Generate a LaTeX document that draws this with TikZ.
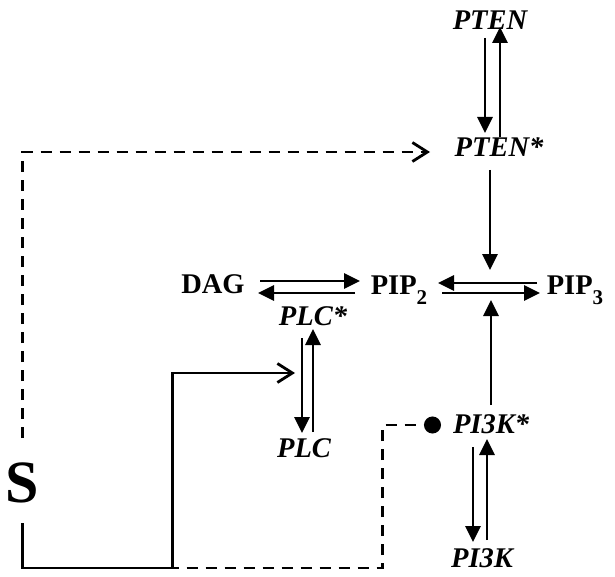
\documentclass[tikz,border=0pt]{standalone}
\usepackage{fontspec}
\setmainfont{Liberation Serif}
\usetikzlibrary{arrows.meta,calc}

\newcommand{\lowsub}[1]{\raisebox{-10pt}{\fontsize{21}{21}\selectfont #1}}

\tikzset{
  species/.style={font=\fontsize{28.5}{30}\selectfont\bfseries, inner sep=0pt, anchor=base},
  enzyme/.style={species, font=\fontsize{28.5}{30}\selectfont\bfseries\itshape},
  stim/.style={species, font=\fontsize{60}{60}\selectfont\bfseries},
  conv/.style={line width=2.8pt, -{Triangle[length=16pt,width=15pt]}},
  signal/.style={line width=2.8pt, -{Straight Barb[length=15pt,width=19pt]}},
  sigdash/.style={dash pattern=on 11pt off 8pt},
  inhib/.style={line width=2.8pt, sigdash, -{Circle[length=17pt]}}
}

\begin{document}
\begin{tikzpicture}[x=1pt, y=-1pt]
\useasboundingbox (0,0) rectangle (615,577);
% species
\node[enzyme] (pten) at (490,30) {PTEN};
\node[enzyme] (ptens) at (499,157) {PTEN*};
\node[species] (dag) at (213,293) {DAG};
\node[species] (pip2) at (399,294) {PIP\lowsub{2}};
\node[species] (pip3) at (575,294) {PIP\lowsub{3}};
\node[enzyme] (plcs) at (313,325) {PLC*};
\node[enzyme] (plc) at (304,457) {PLC};
\node[enzyme] (pi3ks) at (491,433) {PI3K*};
\node[enzyme] (pi3k) at (482,567) {PI3K};
\node[stim] (s) at (22,502) {S};
\coordinate (pipmid) at (490,288);
\coordinate (plcmid) at (307,373);

% PTEN cycle
\draw[conv] ($(pten.base)+(-5,8)$) -- ($(ptens.base)+(-14,-24)$);
\draw[conv] ($(ptens.base)+(1,-20)$) -- ($(pten.base)+(10,-3)$);
\draw[conv] ($(ptens.base)+(-9,13)$) -- ($(pipmid)+(0,-18)$);
% lipids
\draw[conv] ($(dag.base)+(47,-12)$) -- ($(pip2.base)+(-39,-13)$);
\draw[conv] ($(pip2.base)+(-44,-1)$) -- ($(dag.base)+(45,0)$);
\draw[conv] ($(pip3.base)+(-38,-11)$) -- ($(pip2.base)+(39,-11)$);
\draw[conv] ($(pip2.base)+(43,-1)$) -- ($(pip3.base)+(-35,-1)$);
% PLC cycle
\draw[conv] ($(plcs.base)+(-11,13)$) -- ($(plc.base)+(-2,-24)$);
\draw[conv] ($(plc.base)+(9,-25)$) -- ($(plcs.base)+(0,4)$);
% PI3K cycle
\draw[conv] ($(pi3ks.base)+(-18,14)$) -- ($(pi3k.base)+(-9,-25)$);
\draw[conv] ($(pi3k.base)+(5,-27)$) -- ($(pi3ks.base)+(-4,6)$);
\draw[conv] ($(pi3ks.base)+(0,-28)$) -- ($(pipmid)+(1,12)$);

% stimulus
\draw[inhib] ($(s.base)+(0.5,21)$) -- ++(0,45) -| ++(360,-143) -- ($(pi3ks.base)+(-50,-8)$);
\draw[signal] ($(s.base)+(0.5,21)$) -- ++(0,45) -| ++(150,-195) -- ($(plcmid)+(-12,0)$);
\draw[signal, sigdash] ($(s.base)+(0.5,-64)$) |- ($(ptens.base)+(-69,-5)$);
\end{tikzpicture}
\end{document}
